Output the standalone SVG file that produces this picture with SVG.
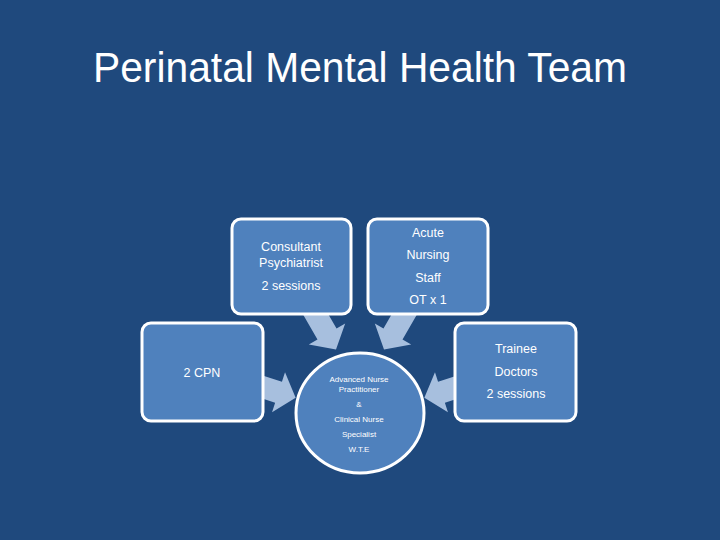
<svg xmlns="http://www.w3.org/2000/svg" width="720" height="540" viewBox="0 0 720 540">
  <style>
    .box { fill: #4F81BD; stroke: #FFFFFF; stroke-width: 3; }
    .arrow { fill: #A7BFDE; }
    .t { font-family: "Liberation Sans", "DejaVu Sans", sans-serif; fill: #FFFFFF; text-anchor: middle; }
    .n { font-size: 12.5px; }
    .s { font-size: 8px; }
  </style>
  <defs>
    <path id="arr" d="M0,-11 L30,-11 L30,-21 L48,0 L30,21 L30,11 L0,11 Z"/>
  </defs>
  <rect width="720" height="540" fill="#1F497D"/>
  <text class="t" x="360" y="82" font-size="42" textLength="534" lengthAdjust="spacingAndGlyphs">Perinatal Mental Health Team</text>

  <g id="connectors" class="arrow">
    <use href="#arr" transform="translate(312,308) rotate(60)"/>
    <use href="#arr" transform="translate(408,308) rotate(120)"/>
    <use href="#arr" transform="translate(250,383) rotate(18)"/>
    <use href="#arr" transform="translate(470,383) rotate(162)"/>
  </g>

  <g id="consultant">
    <rect class="box" x="232" y="219" width="119" height="95" rx="9"/>
    <text class="t n" x="291" y="251">Consultant</text>
    <text class="t n" x="291" y="267">Psychiatrist</text>
    <text class="t n" x="291" y="290">2 sessions</text>
  </g>
  <g id="acute">
    <rect class="box" x="368" y="219" width="120" height="95" rx="9"/>
    <text class="t n" x="428" y="237">Acute</text>
    <text class="t n" x="428" y="259">Nursing</text>
    <text class="t n" x="428" y="282">Staff</text>
    <text class="t n" x="428" y="304">OT x 1</text>
  </g>
  <g id="cpn">
    <rect class="box" x="142" y="323" width="121" height="98" rx="9"/>
    <text class="t n" x="202" y="377">2 CPN</text>
  </g>
  <g id="trainee">
    <rect class="box" x="455" y="323" width="121" height="98" rx="9"/>
    <text class="t n" x="516" y="353">Trainee</text>
    <text class="t n" x="516" y="376">Doctors</text>
    <text class="t n" x="516" y="398">2 sessions</text>
  </g>
  <g id="anp">
    <ellipse class="box" cx="360" cy="413" rx="64" ry="60"/>
    <text class="t s" x="359" y="382">Advanced Nurse</text>
    <text class="t s" x="359" y="392">Practitioner</text>
    <text class="t s" x="359" y="407">&amp;</text>
    <text class="t s" x="359" y="422">Clinical Nurse</text>
    <text class="t s" x="359" y="437">Specialist</text>
    <text class="t s" x="359" y="452">W.T.E</text>
  </g>
</svg>
